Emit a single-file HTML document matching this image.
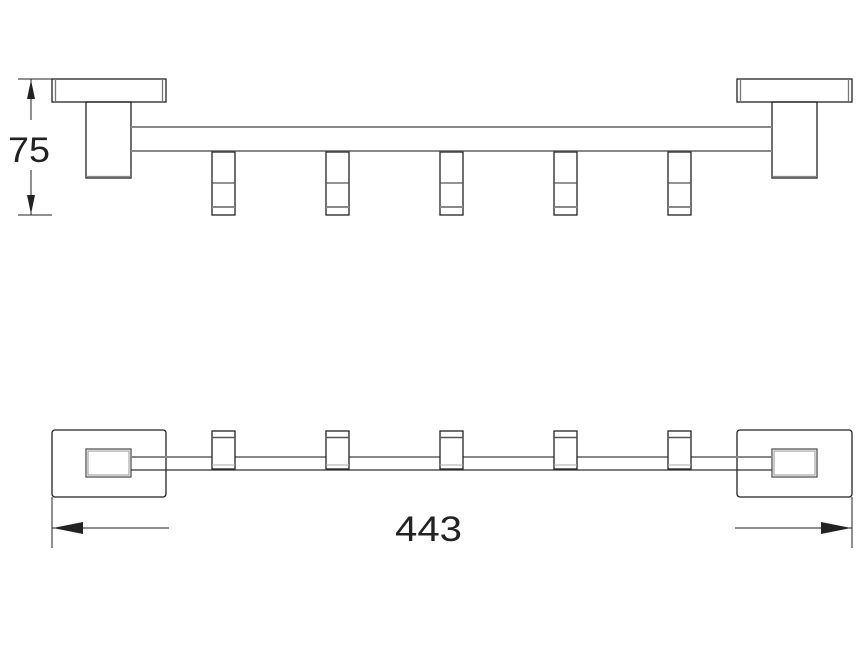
<!DOCTYPE html>
<html><head><style>html,body{margin:0;padding:0;background:#fff}svg{display:block}</style></head>
<body>
<svg width="865" height="651" viewBox="0 0 865 651" xmlns="http://www.w3.org/2000/svg" fill="none" stroke="#222" stroke-width="1.3">
<!-- top view -->
<rect x="52" y="79" width="114" height="23"/>
<line x1="55.5" y1="79" x2="55.5" y2="102" stroke="#777"/>
<line x1="162.5" y1="79" x2="162.5" y2="102" stroke="#777"/>
<rect x="86" y="102" width="45" height="76"/>
<line x1="86" y1="176.5" x2="131" y2="176.5" stroke="#888"/>
<rect x="737" y="79" width="115" height="23"/>
<line x1="740.5" y1="79" x2="740.5" y2="102" stroke="#777"/>
<line x1="848.5" y1="79" x2="848.5" y2="102" stroke="#777"/>
<rect x="772" y="102" width="45" height="76"/>
<line x1="772" y1="176.5" x2="817" y2="176.5" stroke="#888"/>
<line x1="131" y1="127" x2="772" y2="127" stroke="#888" stroke-width="2"/>
<line x1="131" y1="151" x2="772" y2="151" stroke="#888" stroke-width="2"/>
<g id="hk">
<rect x="212" y="152" width="23" height="63"/>
<line x1="212" y1="183" x2="235" y2="183" stroke="#555"/>
<line x1="212" y1="207" x2="235" y2="207" stroke="#888" stroke-width="2"/>
</g>
<use href="#hk" x="114"/><use href="#hk" x="228"/><use href="#hk" x="342"/><use href="#hk" x="456"/>
<!-- 75 dim -->
<line x1="18" y1="79" x2="52" y2="79" stroke-width="1"/>
<line x1="18" y1="215" x2="52" y2="215" stroke-width="1"/>
<line x1="31" y1="79" x2="31" y2="120" stroke-width="1"/>
<line x1="31" y1="170" x2="31" y2="215" stroke-width="1"/>
<polygon points="31,80 27,99 35,99" fill="#222" stroke="none"/>
<polygon points="31,214 27,195 35,195" fill="#222" stroke="none"/>
<text x="8" y="162" font-family="Liberation Sans, sans-serif" font-size="35" fill="#222" stroke="none" textLength="42" lengthAdjust="spacingAndGlyphs">75</text>
<!-- bottom view -->
<rect x="52" y="430" width="114" height="67" rx="3"/>
<rect x="86" y="449" width="45" height="28" stroke="#555"/>
<rect x="88" y="451" width="41" height="24" stroke="#999" stroke-width="1"/>
<rect x="737" y="430" width="115" height="67" rx="3"/>
<rect x="772" y="449" width="45" height="28" stroke="#555"/>
<rect x="774" y="451" width="41" height="24" stroke="#999" stroke-width="1"/>
<line x1="131" y1="457" x2="772" y2="457" stroke="#888" stroke-width="2"/>
<line x1="131" y1="470" x2="772" y2="470" stroke="#333"/>
<g id="hb">
<rect x="212" y="431" width="23" height="38" fill="#fff"/>
<line x1="212" y1="437.5" x2="235" y2="437.5" stroke="#555" stroke-width="1.5"/>
<line x1="212" y1="465" x2="235" y2="465" stroke="#aaa" stroke-width="1"/>
</g>
<use href="#hb" x="114"/><use href="#hb" x="228"/><use href="#hb" x="342"/><use href="#hb" x="456"/>
<!-- 443 dim -->
<line x1="52" y1="497" x2="52" y2="548" stroke-width="1"/>
<line x1="852" y1="497" x2="852" y2="548" stroke-width="1"/>
<line x1="52" y1="528" x2="169" y2="528" stroke-width="1"/>
<line x1="735" y1="528" x2="852" y2="528" stroke-width="1"/>
<polygon points="53,528 83,522 83,534" fill="#222" stroke="none"/>
<polygon points="851,528 821,522 821,534" fill="#222" stroke="none"/>
<text x="395" y="541" font-family="Liberation Sans, sans-serif" font-size="35" fill="#222" stroke="none" textLength="67" lengthAdjust="spacingAndGlyphs">443</text>
</svg>
</body></html>
